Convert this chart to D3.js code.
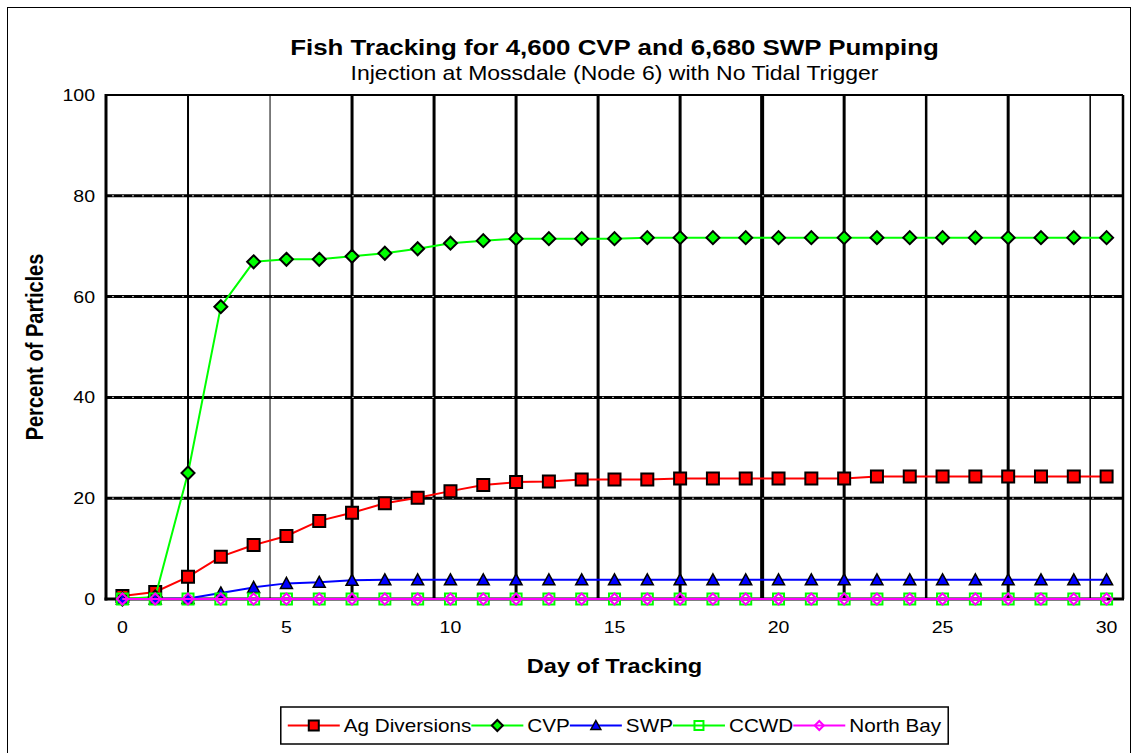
<!DOCTYPE html>
<html>
<head>
<meta charset="utf-8">
<title>Fish Tracking</title>
<script src="https://cdn.jsdelivr.net/npm/d3@7"></script>
<style>
    body{
        margin:0;
        background:#fff;
    }
    svg text{
        font-family:"Liberation Sans", Arial, sans-serif;
        fill:#000;
    }
</style>
</head>
<body>
<div id="chart"></div>
<script>

// ---------------- data ----------------
var days = [0,1,2,3,4,5,6,7,8,9,10,11,12,13,14,15,16,17,18,19,20,21,22,23,24,25,26,27,28,29,30];

var agDiversions = [0.6,1.4,4.4,8.4,10.7,12.5,15.5,17.1,19.0,20.1,21.4,22.6,23.2,23.3,23.7,23.7,
                    23.7,23.9,23.9,23.9,23.9,23.9,23.9,24.3,24.3,24.3,24.3,24.3,24.3,24.3,24.3];
var cvp = [0,0.4,25,58,66.9,67.4,67.4,68.0,68.6,69.5,70.6,71.1,71.5,71.5,71.5,71.5,
           71.7,71.7,71.7,71.7,71.7,71.7,71.7,71.7,71.7,71.7,71.7,71.7,71.7,71.7,71.7];
var swp = [0,0,0.1,1.2,2.3,3.1,3.3,3.7,3.8,3.8,3.8,3.8,3.8,3.8,3.8,3.8,
           3.8,3.8,3.8,3.8,3.8,3.8,3.8,3.8,3.8,3.8,3.8,3.8,3.8,3.8,3.8];
var ccwd = [0,0,0,0,0,0,0,0,0,0,0,0,0,0,0,0,0,0,0,0,0,0,0,0,0,0,0,0,0,0,0];
var northBay = [0,0,0,0,0,0,0,0,0,0,0,0,0,0,0,0,0,0,0,0,0,0,0,0,0,0,0,0,0,0,0];

var seriesNames = ["Ag Diversions","CVP","SWP","CCWD","North Bay"];
var xTicks = [0,5,10,15,20,25,30];
var yTicks = [0,20,40,60,80,100];
var xGrid = [2,4.5,7,9.5,12,14.5,17,19.5,22,24.5,27,29.5];

var titleText = "Fish Tracking for 4,600 CVP and 6,680 SWP Pumping";
var subTitleText = "Injection at Mossdale (Node 6) with No Tidal Trigger";
var xTitleText = "Day of Tracking";
var yTitleText = "Percent of Particles";

// ---------------- styles ----------------
var styles = [
    {line:"#ff0000", shape:"square",   size:12, fill:"#ff0000", stroke:"#000", sw:2},
    {line:"#00ff00", shape:"diamond",  size:13, fill:"#00ff00", stroke:"#000", sw:2},
    {line:"#0000ff", shape:"triangle", size:12, fill:"#0000ff", stroke:"#000", sw:1.5},
    {line:"#00ff00", shape:"square",   size:11, fill:"none",    stroke:"#00ff00", sw:2},
    {line:"#ff00ff", shape:"diamond",  size:11, fill:"none",    stroke:"#ff00ff", sw:2}
];
var xGridWidth = [2,1,3,3,3,3,3,4,3,2.5,3,1.5];

var stretch = 1.15;   // the original chart is a bit wider than tall

var W = 1134, H = 753;
var pL = 106, pR = 1123, pT = 95, pB = 599;

var svg = d3.select("#chart")
            .append("svg")
            .attr("width",W)
            .attr("height",H);

// outer frame
svg.append("rect")
   .attr("x",7.5).attr("y",7.5)
   .attr("width",1123).attr("height",800)
   .attr("fill","none")
   .attr("stroke","#000")
   .attr("stroke-width",1);

var xScale = d3.scaleLinear().domain([-0.5,30.5]).range([pL,pR]);
var yScale = d3.scaleLinear().domain([0,100]).range([pB,pT]);

function sText(x,y,str,size,weight,anchor){
    return svg.append("text")
              .attr("transform","translate("+x+","+y+") scale("+stretch+",1)")
              .attr("text-anchor",anchor)
              .attr("font-size",size+"px")
              .attr("font-weight",weight)
              .text(str);
}

// titles
sText((pL+pR)/2, 55, titleText, 22.5, "bold", "middle");
sText((pL+pR)/2, 80, subTitleText, 20, "normal", "middle");

//----------------- grid -----------------
svg.selectAll(".vgrid")
   .data(xGrid)
   .enter()
   .append("line")
   .attr("x1",function(d){return xScale(d);})
   .attr("x2",function(d){return xScale(d);})
   .attr("y1",pT)
   .attr("y2",pB)
   .attr("stroke","#000")
   .attr("stroke-width",function(d,i){return xGridWidth[i];});

var hg = yTicks.filter(function(d){return d>0 && d<100;});
svg.selectAll(".hgrid")
   .data(hg)
   .enter()
   .append("line")
   .attr("x1",pL).attr("x2",pR)
   .attr("y1",function(d){return yScale(d);})
   .attr("y2",function(d){return yScale(d);})
   .attr("stroke","#000")
   .attr("stroke-width",3);
svg.selectAll(".hgrid2")
   .data(hg)
   .enter()
   .append("line")
   .attr("x1",pL+6).attr("x2",pR)
   .attr("y1",function(d){return yScale(d);})
   .attr("y2",function(d){return yScale(d);})
   .attr("stroke","#c8c8c8")
   .attr("stroke-width",1)
   .attr("stroke-dasharray","2,8");

// plot frame
svg.append("line").attr("x1",pL).attr("x2",pR).attr("y1",pT).attr("y2",pT)
   .attr("stroke","#000").attr("stroke-width",2);
svg.append("line").attr("x1",pR).attr("x2",pR).attr("y1",pT).attr("y2",pB)
   .attr("stroke","#000").attr("stroke-width",2.5);
svg.append("line").attr("x1",pL).attr("x2",pL).attr("y1",pT-1).attr("y2",pB+1.5)
   .attr("stroke","#000").attr("stroke-width",3);
svg.append("line").attr("x1",pL-1.5).attr("x2",pR+1).attr("y1",pB).attr("y2",pB)
   .attr("stroke","#000").attr("stroke-width",3);

// tick labels
yTicks.forEach(function(d){
    sText(95, yScale(d)+6, d, 17, "normal", "end");
});
xTicks.forEach(function(d){
    sText(xScale(d), 633, d, 17, "normal", "middle");
});

// axis titles
sText((pL+pR)/2, 673, xTitleText, 20.5, "bold", "middle");
svg.append("text")
   .attr("transform","translate(43,"+((pT+pB)/2)+") scale("+stretch+",1) rotate(-90)")
   .attr("text-anchor","middle")
   .attr("font-size","20px")
   .attr("font-weight","bold")
   .text(yTitleText);

//----------------- series -----------------
function markerPath(shape,s){
    var h=s/2;
    if(shape=="square") return "M"+(-h)+","+(-h)+"h"+s+"v"+s+"h"+(-s)+"Z";
    if(shape=="diamond") return "M0,"+(-h)+"L"+h+",0L0,"+h+"L"+(-h)+",0Z";
    return "M0,"+(-h)+"L"+h+","+(h-1)+"L"+(-h)+","+(h-1)+"Z";
}

var allSeries = [agDiversions,cvp,swp,ccwd,northBay];

var line = d3.line()
             .x(function(d,i){return xScale(days[i]);})
             .y(function(d){return yScale(d);});

allSeries.forEach(function(vals,k){
    var st = styles[k];
    var g = svg.append("g");
    g.append("path")
     .datum(vals)
     .attr("d",line)
     .attr("fill","none")
     .attr("stroke",st.line)
     .attr("stroke-width",2);
    g.selectAll("path.m")
     .data(vals)
     .enter()
     .append("path")
     .attr("class","m")
     .attr("transform",function(d,i){return "translate("+xScale(days[i])+","+yScale(d)+")";})
     .attr("d",markerPath(st.shape,st.size))
     .attr("fill",st.fill)
     .attr("stroke",st.stroke)
     .attr("stroke-width",st.sw);
});

//----------------- legend -----------------
var legG = svg.append("g");
var sample = 52, gap = 4, lx = 0;
seriesNames.forEach(function(name,k){
    var st = styles[k];
    legG.append("line")
        .attr("x1",lx).attr("x2",lx+sample)
        .attr("y1",0).attr("y2",0)
        .attr("stroke",st.line)
        .attr("stroke-width",2);
    legG.append("path")
        .attr("transform","translate("+(lx+sample/2)+",0)")
        .attr("d",markerPath(st.shape,st.size-2))
        .attr("fill",st.fill)
        .attr("stroke",st.stroke)
        .attr("stroke-width",st.sw);
    var t = legG.append("text")
        .attr("transform","translate("+(lx+sample+gap)+",6.5) scale("+stretch+",1)")
        .attr("font-size","18px")
        .text(name);
    lx += sample + gap + t.node().getComputedTextLength()*stretch;
});
var legW = lx + 14;
var legX = (pL+pR)/2 - legW/2;
svg.insert("rect","g")
   .attr("x",legX).attr("y",707)
   .attr("width",legW).attr("height",37)
   .attr("fill","#fff")
   .attr("stroke","#000")
   .attr("stroke-width",1.5);
legG.attr("transform","translate("+(legX+7)+",725.5)");
legG.raise();

</script>
</body>
</html>
